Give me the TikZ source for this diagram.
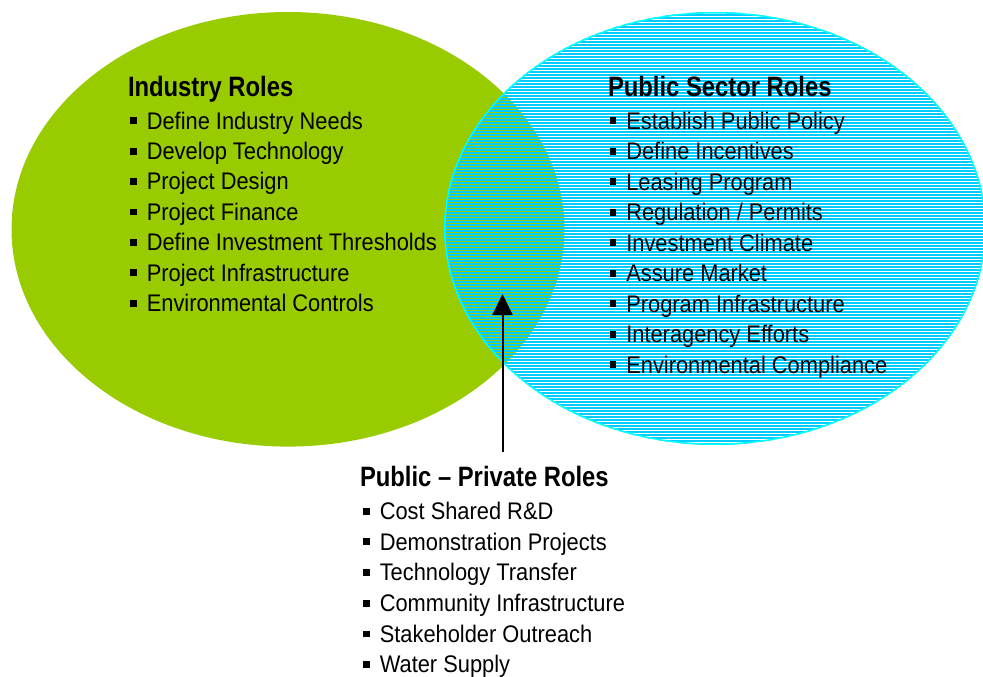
\documentclass[tikz,border=0pt]{standalone}
\usepackage{fontspec}
\setmainfont{Liberation Sans}
\newfontfamily\itemfont{Liberation Sans}[FakeStretch=0.91]
\newfontfamily\headfont{Liberation Sans}[FakeStretch=0.85]
\usetikzlibrary{arrows.meta}
\definecolor{leafgreen}{HTML}{99CC00}
\definecolor{hatchblue}{HTML}{00CCFF}
\definecolor{rimcyan}{HTML}{00FFFF}
\newcommand{\bul}{\rule[4.8pt]{6.8pt}{6.8pt}\hspace{10pt}}
\begin{document}
\begin{tikzpicture}[x=1pt,y=-1pt,
  heading/.style={anchor=base west,inner sep=0pt,outer sep=0pt,font=\headfont\bfseries\fontsize{28}{32}\selectfont},
  roleitem/.style={anchor=base west,inner sep=0pt,outer sep=0pt,font=\itemfont\fontsize{24}{30}\selectfont},
  hatch/.style={draw=hatchblue,line width=1.4pt},
  pointer/.style={draw=black,line width=2pt,-{Triangle[length=21pt,width=20pt]}}]
\useasboundingbox (0,0) rectangle (983,677);
\fill[leafgreen] (288,229.3) ellipse [x radius=276.5,y radius=217.3];
\begin{scope}
\clip (715,228.5) ellipse [x radius=271,y radius=216.5];
\foreach \k [evaluate=\k as \yy using 12+3*\k] in {0,...,145}
  \draw[hatch] (440,\yy) -- (990,\yy);
\end{scope}
\draw[rimcyan,line width=1.5pt] (715,228.5) ellipse [x radius=270.2,y radius=215.7];
% Industry roles
\node[heading] (indhead) at (128,96.7) {Industry Roles};
\foreach \t [count=\i, evaluate=\i as \yy using 129+30.4*(\i-1)] in
  {Define Industry Needs,Develop Technology,Project Design,Project Finance,Define Investment Thresholds,Project Infrastructure,Environmental Controls}
  \node[roleitem] (ind\i) at (130,\yy) {\bul\t};
% Public sector roles
\node[heading] (pubhead) at (608,96.7) {Public Sector Roles};
\foreach \t [count=\i, evaluate=\i as \yy using 129+30.5*(\i-1)] in
  {Establish Public Policy,Define Incentives,Leasing Program,Regulation / Permits,Investment Climate,Assure Market,Program Infrastructure,Interagency Efforts,Environmental Compliance}
  \node[roleitem] (pub\i) at (609.5,\yy) {\bul\t};
% Public-private roles
\node[heading] (pphead) at (360,486.7) {Public – Private Roles};
\foreach \t [count=\i, evaluate=\i as \yy using 519.3+30.7*(\i-1)] in
  {Cost Shared R\&D,Demonstration Projects,Technology Transfer,Community Infrastructure,Stakeholder Outreach,Water Supply}
  \node[roleitem] (pp\i) at (363,\yy) {\bul\t};
% arrow
\coordinate (tail) at (502.5,452);
\coordinate (tip) at (502.5,294);
\draw[pointer] (tail) -- (tip);
\end{tikzpicture}
\end{document}
